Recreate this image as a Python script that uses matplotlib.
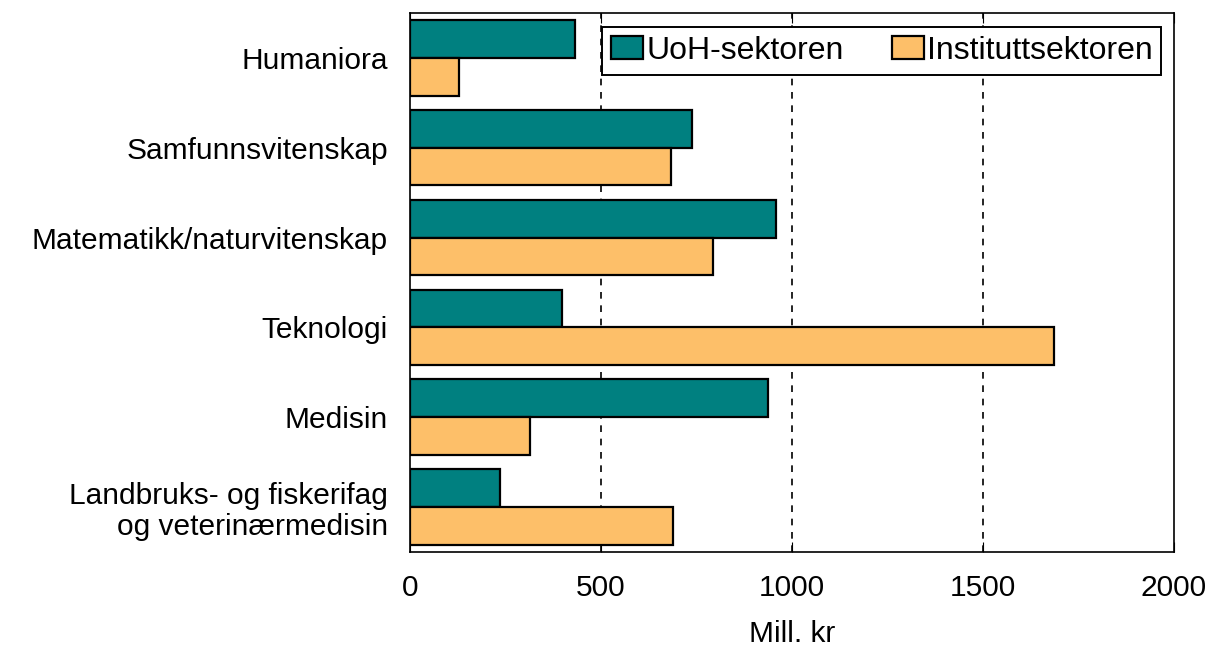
import matplotlib.pyplot as plt
import numpy as np

plt.rcParams["font.family"] = ["Liberation Sans", "DejaVu Sans"]

categories = [
    "Humaniora",
    "Samfunnsvitenskap",
    "Matematikk/naturvitenskap",
    "Teknologi",
    "Medisin",
    "Landbruks- og fiskerifag\nog veterinærmedisin",
]
uoh_values = [432, 738, 958, 397, 937, 234]
institutt_values = [128, 683, 793, 1686, 313, 688]
series_names = ["UoH-sektoren", "Instituttsektoren"]
x_ticks = [0, 500, 1000, 1500, 2000]

TEAL = "#008080"
ORANGE = "#FDBF69"


def main() -> None:
    fig = plt.figure(figsize=(12.1, 6.49), dpi=100)
    ax = fig.add_axes([0.339, 0.1495, 0.631, 0.8305])

    y = np.arange(len(categories))
    h = 0.42

    ax.barh(y - h / 2, uoh_values, height=h, color=TEAL,
            edgecolor="black", linewidth=1.6, label=series_names[0], zorder=3)
    ax.barh(y + h / 2, institutt_values, height=h, color=ORANGE,
            edgecolor="black", linewidth=1.6, label=series_names[1], zorder=3)

    ax.set_ylim(len(categories) - 0.5, -0.5)
    ax.set_xlim(0, 2000)
    ax.set_xticks(x_ticks)
    ax.set_xticklabels([str(t) for t in x_ticks], fontsize=21.5)
    ax.set_yticks(y)
    ax.set_yticklabels(categories, fontsize=21.5, ha="right",
                       multialignment="right", linespacing=1.15)

    ax.tick_params(axis="x", direction="in", top=True, length=7, pad=16)
    ax.tick_params(axis="y", length=0, pad=16)

    for xv in x_ticks[1:-1]:
        ax.axvline(xv, color="black", linestyle=(0, (4, 4)), linewidth=1.2, zorder=1)

    for spine in ax.spines.values():
        spine.set_linewidth(1.2)

    ax.set_xlabel("Mill. kr", fontsize=21.5, labelpad=13)

    leg = ax.legend(loc="upper right", ncol=2, fontsize=23, frameon=True,
                    fancybox=False, edgecolor="black", framealpha=1,
                    handlelength=1.0, handleheight=0.75, handletextpad=0.1,
                    columnspacing=1.5, borderpad=0.28, borderaxespad=0,
                    bbox_to_anchor=(0.984, 0.974))
    leg.get_frame().set_linewidth(1.4)

    fig.savefig("out.png", dpi=100)
    plt.close(fig)


if __name__ == "__main__":
    main()
